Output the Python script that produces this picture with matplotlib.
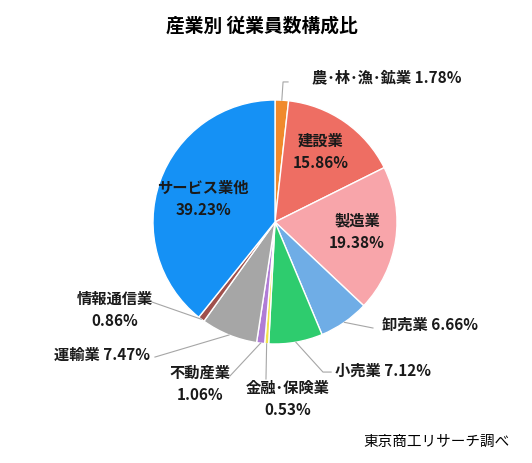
import matplotlib.pyplot as plt
import numpy as np

plt.rcParams['font.family'] = ['Noto Sans CJK JP', 'DejaVu Sans']

# data (clockwise from 12 o'clock)
industries = ['農･林･漁･鉱業', '建設業', '製造業', '卸売業', '小売業',
              '金融･保険業', '不動産業', '運輸業', '情報通信業', 'サービス業他']
shares = [1.78, 15.86, 19.38, 6.66, 7.12, 0.53, 1.06, 7.47, 0.86, 39.23]
colors = ['#F08A2C', '#EE6E63', '#F8A5AA', '#6FADE6', '#2ECC6E',
          '#F2E34E', '#B07CD6', '#A6A6A6', '#A0504C', '#1591F5']

# label layout in pie-radius units: (text x, text y, ha, two-line?, leader elbow or None)
layout = {
    '農･林･漁･鉱業': (0.30, 1.197, 'left', False, [(0.066, 1.148), (0.107, 1.148)]),
    '建設業': (0.377, 0.582, 'center', True, None),
    '製造業': (0.672, -0.074, 'center', True, None),
    '卸売業': (0.877, -0.836, 'left', False, [(0.803, -0.869)]),
    '小売業': (0.492, -1.213, 'left', False, [(0.393, -1.23), (0.46, -1.23)]),
    '金融･保険業': (0.107, -1.443, 'center', True, [(-0.074, -1.287)]),
    '不動産業': (-0.615, -1.32, 'center', True, [(-0.369, -1.262)]),
    '運輸業': (-1.025, -1.082, 'right', False, [(-0.984, -1.107)]),
    '情報通信業': (-1.311, -0.713, 'center', True, [(-1.008, -0.656)]),
    'サービス業他': (-0.590, 0.197, 'center', True, None),
}

W, H = 532, 464
cx, cy, R = 275, 223, 122
fig = plt.figure(figsize=(W / 100, H / 100), dpi=100)
ax = fig.add_axes([0, 0, 1, 1])

wedges, _ = ax.pie(shares, colors=colors, startangle=90, counterclock=False,
                   radius=1, wedgeprops=dict(edgecolor='white', linewidth=1))
ax.set_xlim(-cx / R, (W - cx) / R)
ax.set_ylim(-(H - cy) / R, cy / R)
ax.set_aspect('equal')
ax.axis('off')

for w, name, val in zip(wedges, industries, shares):
    tx, ty, ha, two, elbow = layout[name]
    if two:
        txt = f'{name}\n{val:.2f}%'
    else:
        txt = f'{name} {val:.2f}%'
    ax.text(tx, ty, txt, ha=ha, va='center', fontsize=11, fontweight='bold',
            linespacing=1.5, color='#1a1a1a')
    if elbow is not None:
        ang = np.deg2rad((w.theta1 + w.theta2) / 2)
        xs = [np.cos(ang)] + [p[0] for p in elbow]
        ys = [np.sin(ang)] + [p[1] for p in elbow]
        ax.plot(xs, ys, color='#A6A6A6', linewidth=0.8)

fig.text(262 / W, 1 - 26 / H, '産業別 従業員数構成比', ha='center', va='center',
         fontsize=13.5, fontweight='bold')
fig.text(510 / W, 1 - 442 / H, '東京商工リサーチ調べ', ha='right', va='center',
         fontsize=10.5)

fig.savefig('out.png', dpi=100)
